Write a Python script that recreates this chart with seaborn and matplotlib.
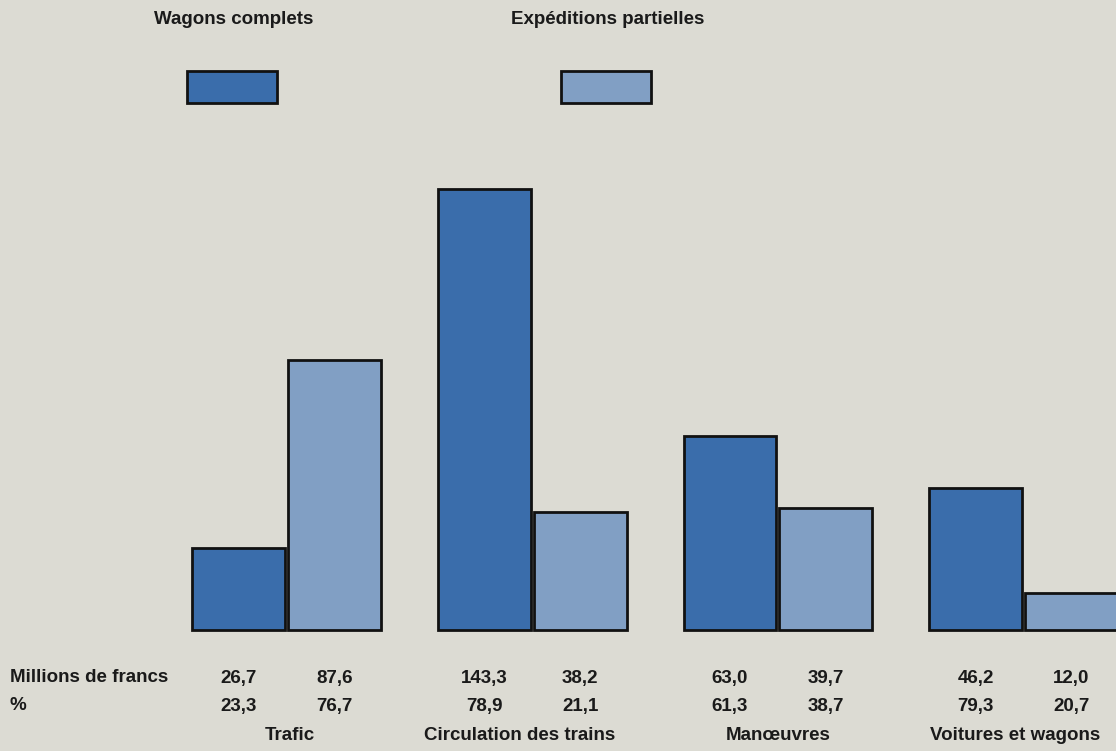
import matplotlib
matplotlib.use("Agg")
import matplotlib.pyplot as plt
import matplotlib.transforms as mtransforms
from matplotlib.patches import Rectangle
import seaborn as sns
import pandas as pd

# Cost categories and the two kinds of traffic
categories = ["Trafic", "Circulation des trains", "Manœuvres", "Voitures et wagons"]
series = ["Wagons complets", "Expéditions partielles"]
millions_wagons = [26.7, 143.3, 63.0, 46.2]
millions_partielles = [87.6, 38.2, 39.7, 12.0]
pct_wagons = [23.3, 78.9, 61.3, 79.3]
pct_partielles = [76.7, 21.1, 38.7, 20.7]
row_labels = ["Millions de francs", "%"]

BG = "#dcdbd3"
DARK = "#3a6dab"
LIGHT = "#819fc4"
INK = "#1a1a1a"
W, H = 1116, 751

sns.set_theme(style="white")
plt.rcParams["font.family"] = ["Liberation Sans", "DejaVu Sans"]

df = pd.DataFrame({
    "cat": categories * 2,
    "serie": [series[0]] * 4 + [series[1]] * 4,
    "val": millions_wagons + millions_partielles,
})

fig = plt.figure(figsize=(W / 100, H / 100), dpi=100, facecolor=BG)
ax = fig.add_axes([0, 0, 1, 1], facecolor=BG)

sns.barplot(data=df, x="cat", y="val", hue="serie", hue_order=series,
            order=categories, palette=[DARK, LIGHT], width=0.78, gap=0.03,
            edgecolor="#111111", linewidth=2.0, saturation=1, legend=False,
            errorbar=None, ax=ax)

# pixel layout: groups 245.7 px apart, first group centred at x=286.5, baseline at y=630
px_per_group = 245.7
x0 = -286.5 / px_per_group
ax.set_xlim(x0, x0 + W / px_per_group)
px_per_unit = 3.08
base_from_bottom = H - 630
ax.set_ylim(-base_from_bottom / px_per_unit, (H - base_from_bottom) / px_per_unit)
ax.set_axis_off()

fs = 13.5
tw = "bold"

def yfrac(ypix):
    return 1 - ypix / H

trans = mtransforms.blended_transform_factory(ax.transData, ax.transAxes)

# numeric rows under each bar
bars = sorted([p for p in ax.patches if p.get_width() > 0], key=lambda p: p.get_x())
centres = [p.get_x() + p.get_width() / 2 for p in bars]
mill = []
pct = []
for a, b in zip(millions_wagons, millions_partielles):
    mill += [a, b]
for a, b in zip(pct_wagons, pct_partielles):
    pct += [a, b]
fmt = lambda v: f"{v:.1f}".replace(".", ",")
for xc, m, p in zip(centres, mill, pct):
    ax.text(xc, yfrac(678), fmt(m), transform=trans, ha="center", va="center",
            fontsize=fs, fontweight=tw, color=INK)
    ax.text(xc, yfrac(706), fmt(p), transform=trans, ha="center", va="center",
            fontsize=fs, fontweight=tw, color=INK)

for lab, yp in zip(row_labels, [678, 706]):
    fig.text(10 / W, yfrac(yp), lab, ha="left", va="center", fontsize=fs,
             fontweight=tw, color=INK)

# category names along the bottom
label_px = [290, 520, 778, 1015]
for lab, xp in zip(categories, label_px):
    fig.text(xp / W, yfrac(735), lab, ha="center", va="center", fontsize=fs,
             fontweight=tw, color=INK)

# legend: titles with a swatch beneath each
for name, col, xc in zip(series, [DARK, LIGHT], [234, 608]):
    fig.text(xc / W, yfrac(19), name, ha="center", va="center", fontsize=fs,
             fontweight=tw, color=INK)
    fig.patches.append(Rectangle(((xc - 2 - 45) / W, yfrac(103)), 90 / W, 32 / H,
                                 transform=fig.transFigure, facecolor=col,
                                 edgecolor="#111111", linewidth=2.0))

fig.savefig("out.png", dpi=100, facecolor=BG)
